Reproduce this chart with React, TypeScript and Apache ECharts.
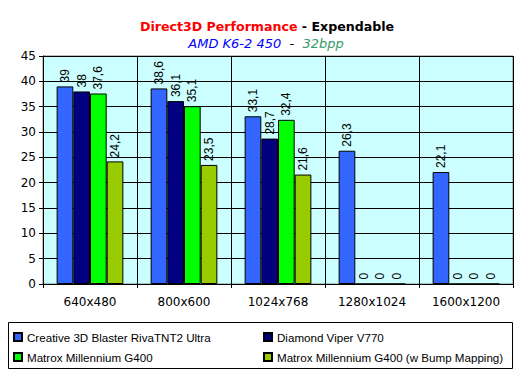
import React, { useEffect, useRef } from "react";
import * as echarts from "echarts";

const categories = ["640x480", "800x600", "1024x768", "1280x1024", "1600x1200"];
const seriesNames = [
  "Creative 3D Blaster RivaTNT2 Ultra",
  "Diamond Viper V770",
  "Matrox Millennium G400",
  "Matrox Millennium G400 (w Bump Mapping)",
];
const rivaTNT2 = [39, 38.6, 33.1, 26.3, 22.1];
const viperV770 = [38, 36.1, 28.7, 0, 0];
const g400 = [37.6, 35.1, 32.4, 0, 0];
const g400Bump = [24.2, 23.5, 21.6, 0, 0];
const seriesColors = ["#3366FF", "#000080", "#00FF00", "#99CC00"];
const yTicks = { min: 0, max: 45, interval: 5 };

const FONT = "DejaVu Sans";

export default function App() {
  const ref = useRef<HTMLDivElement>(null);
  useEffect(() => {
    if (!ref.current) return;
    const chart = echarts.init(ref.current, null, { renderer: "svg" });
    const data = [rivaTNT2, viperV770, g400, g400Bump];
    const legendPos = [
      { left: 13, top: 331 },
      { left: 263, top: 331 },
      { left: 13, top: 351 },
      { left: 263, top: 351 },
    ];
    chart.setOption({
      animation: false,
      backgroundColor: "#FFFFFF",
      title: [
        {
          text: "{a|Direct3D Performance}{b| - Expendable}",
          left: 262,
          textAlign: "center",
          top: 15,
          textStyle: {
            rich: {
              a: { fontFamily: FONT, fontSize: 12.6, fontWeight: "bold", color: "#FF0000" },
              b: { fontFamily: FONT, fontSize: 12.6, fontWeight: "bold", color: "#000000" },
            },
          },
        },
        {
          text: "{a|AMD K6-2 450}{b|  -  }{c|32bpp}",
          left: 261,
          textAlign: "center",
          top: 32,
          textStyle: {
            fontWeight: "normal",
            rich: {
              a: { fontFamily: FONT, fontSize: 13, fontWeight: "normal", fontStyle: "italic", color: "#0000FF" },
              b: { fontFamily: FONT, fontSize: 13, fontWeight: "normal", color: "#000000" },
              c: { fontFamily: FONT, fontSize: 13, fontWeight: "normal", fontStyle: "italic", color: "#339966" },
            },
          },
        },
      ],
      legend: seriesNames.map((name, i) => ({
        data: [name],
        left: legendPos[i].left,
        top: legendPos[i].top,
        padding: 0,
        itemWidth: 8,
        itemHeight: 8,
        icon: "rect",
        textStyle: { fontFamily: "Liberation Sans", fontSize: 11.6, color: "#000" },
      })),
      graphic: [
        {
          type: "rect",
          shape: { x: 8.5, y: 322.5, width: 504, height: 46 },
          style: { fill: "none", stroke: "#000", lineWidth: 1 },
          z: -1,
        },
      ],
      grid: {
        left: 43,
        right: 15,
        top: 56,
        bottom: 93,
        show: true,
        backgroundColor: "#CCFFFF",
        borderColor: "#808080",
        borderWidth: 1,
      },
      xAxis: {
        type: "category",
        data: categories,
        axisLine: { lineStyle: { color: "#000" } },
        axisTick: { show: true, length: 4, lineStyle: { color: "#000" } },
        splitLine: { show: true, lineStyle: { color: "#000" } },
        axisLabel: { fontFamily: FONT, fontSize: 12, color: "#000", margin: 12 },
      },
      yAxis: {
        type: "value",
        min: yTicks.min,
        max: yTicks.max,
        interval: yTicks.interval,
        axisLine: { show: true, lineStyle: { color: "#000" } },
        axisTick: { show: true, length: 4, lineStyle: { color: "#000" } },
        splitLine: { show: true, lineStyle: { color: "#000" } },
        axisLabel: { fontFamily: FONT, fontSize: 12, color: "#000", margin: 7 },
      },
      series: seriesNames.map((name, i) => ({
        name,
        type: "bar",
        data: data[i],
        barGap: "0%",
        barCategoryGap: "29%",
        itemStyle: { color: seriesColors[i], borderColor: "#000", borderWidth: 1 },
        label: {
          show: true,
          position: "top",
          rotate: 90,
          align: "left",
          verticalAlign: "middle",
          distance: 4,
          fontFamily: "Liberation Sans",
          fontSize: 12,
          color: "#000",
          formatter: (p: any) => String(p.value).replace(".", ","),
        },
      })),
    });
    return () => chart.dispose();
  }, []);
  return <div ref={ref} style={{ width: 528, height: 377, position: "absolute", left: 0, top: 0 }} />;
}
